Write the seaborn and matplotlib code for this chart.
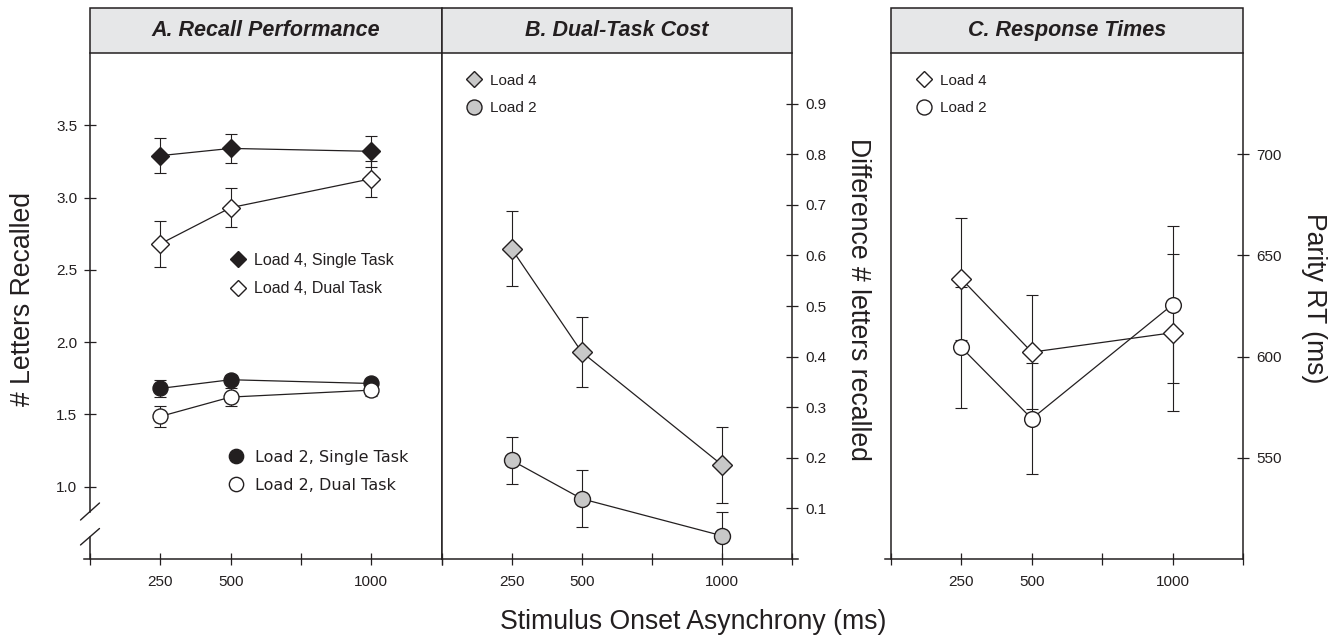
import matplotlib
matplotlib.use("Agg")
import matplotlib.pyplot as plt
from matplotlib.patches import Rectangle
from matplotlib.lines import Line2D
import seaborn as sns

# ---------------- data ----------------
soa = [250, 500, 1000]
x_ticks = [0, 250, 500, 750, 1000, 1250]
x_ticklabels = ["", "250", "500", "", "1000", ""]

recall_l4_single = [3.29, 3.34, 3.32]
recall_l4_single_err = [0.12, 0.10, 0.107]
recall_l4_dual = [2.68, 2.93, 3.13]
recall_l4_dual_err = [0.16, 0.133, 0.124]
recall_l2_single = [1.68, 1.74, 1.714]
recall_l2_single_err = [0.06, 0.03, 0.03]
recall_l2_dual = [1.486, 1.62, 1.668]
recall_l2_dual_err = [0.07, 0.065, 0.04]

cost_l4 = [0.613, 0.409, 0.186]
cost_l4_err = [0.074, 0.07, 0.075]
cost_l2 = [0.195, 0.119, 0.046]
cost_l2_err = [0.046, 0.056, 0.047]

rt_l4 = [638.4, 602.2, 611.8]
rt_l4_err = [30, 28, 38.7]
rt_l2 = [604.5, 569.3, 625.7]
rt_l2_err = [30, 27.5, 38.6]

recall_yticks = [1.0, 1.5, 2.0, 2.5, 3.0, 3.5]
cost_yticks = [0.1, 0.2, 0.3, 0.4, 0.5, 0.6, 0.7, 0.8, 0.9]
rt_yticks = [550, 600, 650, 700]

panel_titles = ["A. Recall Performance", "B. Dual-Task Cost", "C. Response Times"]

# ---------------- style ----------------
sns.set_style("white")
plt.rcParams["font.family"] = ["Liberation Sans", "DejaVu Sans"]
DARK = "#231f20"
GRAY = "#c8c8c8"
HEADER = "#e6e7e8"

W, H = 1337, 636
fig = plt.figure(figsize=(W / 100, H / 100), dpi=100)

def frac_rect(x0, x1, y0, y1):
    return [x0 / W, 1 - y1 / H, (x1 - x0) / W, (y1 - y0) / H]

axA = fig.add_axes(frac_rect(90, 441.5, 53, 559))
axB = fig.add_axes(frac_rect(441.5, 792, 53, 559))
axC = fig.add_axes(frac_rect(891, 1243, 53, 559))

AX_H = 506.0
HDR = 45.0 / AX_H
TICK_FS = 11


def series(ax, y, err, marker, ms, face):
    ax.errorbar(soa, y, yerr=err, fmt="none", ecolor=DARK, elinewidth=0.8,
                capsize=4, capthick=0.8, zorder=2)
    sns.lineplot(x=soa, y=y, ax=ax, color=DARK, linewidth=0.9, marker=marker,
                 markersize=ms, markerfacecolor=face, markeredgecolor=DARK,
                 markeredgewidth=1.0, zorder=3)


def common(ax, title, xlim_ext):
    ax.set_xlim(0, 1250)
    ax.set_xticks(x_ticks)
    ax.set_xticklabels(x_ticklabels)
    for s in ax.spines.values():
        s.set_color(DARK)
        s.set_linewidth(1.1)
    ax.spines["top"].set_visible(False)
    ax.spines["bottom"].set_bounds(*xlim_ext)
    ax.tick_params(axis="both", direction="inout", length=8.6, width=0.9,
                   color=DARK, labelcolor=DARK, labelsize=TICK_FS, pad=5)
    ax.tick_params(axis="x", bottom=True, top=False, labelbottom=True, pad=7.5)
    ax.add_patch(Rectangle((0, 1), 1, HDR, transform=ax.transAxes, clip_on=False,
                           facecolor=HEADER, edgecolor=DARK, linewidth=1.1, zorder=5))
    ax.text(0.5, 1 + HDR / 2, title, transform=ax.transAxes, ha="center",
            va="center", fontsize=15.5, fontweight="bold", fontstyle="italic",
            color=DARK, zorder=6)
    ax.set_xlabel("")
    ax.set_ylabel("")
    ax.set_facecolor("white")


# ---------------- Panel A ----------------
series(axA, recall_l4_single, recall_l4_single_err, "D", 8.7, DARK)
series(axA, recall_l4_dual, recall_l4_dual_err, "D", 8.7, "white")
series(axA, recall_l2_single, recall_l2_single_err, "o", 10.8, DARK)
series(axA, recall_l2_dual, recall_l2_dual_err, "o", 10.8, "white")
axA.set_ylim(0.5, 4.0)
common(axA, panel_titles[0], (-21, 1250))
axA.set_yticks(recall_yticks)
axA.set_yticklabels([f"{v:.1f}" for v in recall_yticks])
axA.tick_params(axis="y", left=True, right=False, labelleft=True, labelright=False)
axA.spines["left"].set_bounds(0.825, 4.0)
# lower piece of the broken axis + break marks
ytr = axA.get_yaxis_transform()
axA.plot([0, 0], [0.5, 0.652], transform=ytr, color=DARK, lw=1.1, clip_on=False)
for ya, yb in [(0.0277, 0.0603), (0.077, 0.1107)]:
    axA.plot([-0.027, 0.027], [ya, yb], transform=axA.transAxes, color=DARK,
             lw=1.0, clip_on=False)

legA1 = axA.legend(
    handles=[Line2D([], [], ls="none", marker="D", ms=8.3, mfc=DARK, mec=DARK, mew=1),
             Line2D([], [], ls="none", marker="D", ms=8.3, mfc="white", mec=DARK, mew=1)],
    labels=["Load 4, Single Task", "Load 4, Dual Task"],
    loc="center left", bbox_to_anchor=(0.398, 0.5623), frameon=False,
    fontsize=11.5, handlelength=1.0, handletextpad=0.5, borderpad=0,
    borderaxespad=0, labelspacing=0.85, labelcolor=DARK)
axA.add_artist(legA1)
axA.legend(
    handles=[Line2D([], [], ls="none", marker="o", ms=10.3, mfc=DARK, mec=DARK, mew=1),
             Line2D([], [], ls="none", marker="o", ms=10.3, mfc="white", mec=DARK, mew=1)],
    labels=["Load 2, Single Task", "Load 2, Dual Task"],
    loc="center left", bbox_to_anchor=(0.3935, 0.1733), frameon=False,
    prop={"family": "DejaVu Sans", "size": 11.5}, handlelength=1.0,
    handletextpad=0.67, borderpad=0, borderaxespad=0, labelspacing=0.84,
    labelcolor=DARK)

# ---------------- Panel B ----------------
series(axB, cost_l4, cost_l4_err, "D", 9.7, GRAY)
series(axB, cost_l2, cost_l2_err, "o", 11.5, GRAY)
axB.set_ylim(0.0, 1.0)
common(axB, panel_titles[1], (0, 1271))
axB.set_yticks(cost_yticks)
axB.set_yticklabels([f"{v:.1f}" for v in cost_yticks])
axB.tick_params(axis="y", left=False, right=True, labelleft=False, labelright=True)
axB.legend(
    handles=[Line2D([], [], ls="none", marker="D", ms=8.5, mfc=GRAY, mec=DARK, mew=1),
             Line2D([], [], ls="none", marker="o", ms=10.8, mfc=GRAY, mec=DARK, mew=1)],
    labels=["Load 4", "Load 2"],
    loc="center left", bbox_to_anchor=(0.071, 0.918), frameon=False,
    fontsize=11, handlelength=1.0, handletextpad=0.55, borderpad=0,
    borderaxespad=0, labelspacing=0.9, labelcolor=DARK)

# ---------------- Panel C ----------------
series(axC, rt_l4, rt_l4_err, "D", 9.7, "white")
series(axC, rt_l2, rt_l2_err, "o", 11.3, "white")
axC.set_ylim(500, 750)
common(axC, panel_titles[2], (-21, 1250))
axC.set_yticks(rt_yticks)
axC.set_yticklabels([str(v) for v in rt_yticks])
axC.tick_params(axis="y", left=False, right=True, labelleft=False, labelright=True)
axC.legend(
    handles=[Line2D([], [], ls="none", marker="D", ms=8.5, mfc="white", mec=DARK, mew=1),
             Line2D([], [], ls="none", marker="o", ms=10.8, mfc="white", mec=DARK, mew=1)],
    labels=["Load 4", "Load 2"],
    loc="center left", bbox_to_anchor=(0.072, 0.918), frameon=False,
    fontsize=11, handlelength=1.0, handletextpad=0.55, borderpad=0,
    borderaxespad=0, labelspacing=0.9, labelcolor=DARK)

# ---------------- axis titles ----------------
LAB_FS = 19.2
fig.text(23 / W, 1 - 298.5 / H, "# Letters Recalled", rotation=90, ha="center",
         va="center", fontsize=LAB_FS, color=DARK)
fig.text(858 / W, 1 - 299.5 / H, "Difference # letters recalled", rotation=270,
         ha="center", va="center", fontsize=LAB_FS, color=DARK)
fig.text(1314 / W, 1 - 298.5 / H, "Parity RT (ms)", rotation=270, ha="center",
         va="center", fontsize=LAB_FS, color=DARK)
fig.text(693 / W, 1 - 622 / H, "Stimulus Onset Asynchrony (ms)", ha="center",
         va="center", fontsize=LAB_FS, color=DARK)

fig.savefig("out.png", dpi=100, facecolor="white")
